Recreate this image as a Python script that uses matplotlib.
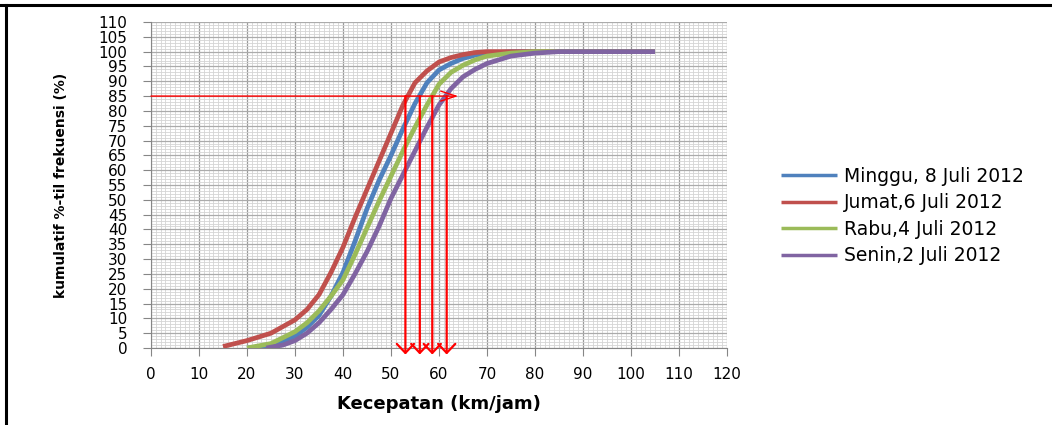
import numpy as np
import matplotlib.pyplot as plt
from matplotlib.ticker import MultipleLocator
from matplotlib.lines import Line2D

# kumulatif %-til frekuensi per hari
minggu_x = [20, 25, 30, 32.5, 35, 37.5, 40, 42.5, 45, 47.5, 50, 52.5, 55, 57.5, 60, 62.5, 65, 67.5, 70, 75, 80, 90, 105]
minggu_y = [0, 0.7, 4, 7, 11, 17.5, 25.5, 36, 47, 56.5, 65, 74, 82.5, 89.5, 93.8, 96, 97.7, 98.8, 99.4, 100, 100, 100, 100]

jumat_x = [15, 20, 25, 30, 32.5, 35, 37.5, 40, 42.5, 45, 47.5, 50, 52.5, 55, 57.5, 60, 62.5, 65, 67.5, 70, 75, 80, 90, 105]
jumat_y = [0.5, 2.5, 5, 9.5, 13, 18, 25.5, 34, 44, 53.5, 63, 72.5, 82, 89.5, 93.5, 96.5, 98, 99, 99.7, 100, 100, 100, 100, 100]

rabu_x = [20, 25, 30, 32.5, 35, 37.5, 40, 42.5, 45, 47.5, 50, 52.5, 55, 57.5, 60, 62.5, 65, 67.5, 70, 75, 80, 90, 105]
rabu_y = [0, 1.5, 5.5, 8.5, 12.5, 17.5, 23, 31.5, 40.5, 49.5, 58, 66.5, 74.5, 82, 89, 93, 95.4, 97.2, 98.5, 99.5, 100, 100, 100]

senin_x = [24, 27.5, 30, 32.5, 35, 37.5, 40, 42.5, 45, 47.5, 50, 52.5, 55, 57.5, 60, 62.5, 65, 67.5, 70, 75, 80, 85, 90, 105]
senin_y = [0, 1, 2.5, 5, 8.5, 13, 18, 25, 32.5, 41, 50.5, 58.5, 66.5, 74.5, 82, 87.5, 91.5, 94, 96, 98.5, 99.5, 100, 100, 100]

labels = ['Minggu, 8 Juli 2012', 'Jumat,6 Juli 2012', 'Rabu,4 Juli 2012', 'Senin,2 Juli 2012']
colors = ['#4F81BD', '#C0504D', '#9BBB59', '#8064A2']

# garis bantu 85 persentil
level = 85
arrow_x = [53, 56, 58.6, 61.6]
hline_end = 64

fig = plt.figure(figsize=(10.52, 4.25), dpi=100)
ax = fig.add_axes([151/1052, 77/425, 576/1052, 326/425])

series = [(minggu_x, minggu_y), (jumat_x, jumat_y), (rabu_x, rabu_y), (senin_x, senin_y)]
for (xs, ys), lab, c in zip(series, labels, colors):
    ax.plot(xs, ys, color=c, lw=3.4, label=lab, solid_capstyle='butt',
            solid_joinstyle='round', zorder=3)

# panah merah
ax.annotate('', xy=(hline_end, level), xytext=(0, level),
            arrowprops=dict(arrowstyle='->,head_length=1.1,head_width=0.36', color='red',
                            lw=1.0, shrinkA=0, shrinkB=0, mutation_scale=10), zorder=4)
for xa in arrow_x:
    ax.annotate('', xy=(xa, -2.2), xytext=(xa, level), annotation_clip=False,
                arrowprops=dict(arrowstyle='->,head_length=0.65,head_width=0.62', color='red',
                                lw=1.6, shrinkA=0, shrinkB=0, mutation_scale=10), zorder=4)

ax.set_xlim(0, 120)
ax.set_ylim(0, 110)
ax.xaxis.set_major_locator(MultipleLocator(10))
ax.xaxis.set_minor_locator(MultipleLocator(1))
ax.yaxis.set_major_locator(MultipleLocator(5))
ax.yaxis.set_minor_locator(MultipleLocator(1))

ax.grid(which='minor', color='#D4D4D4', lw=0.6)
ax.xaxis.grid(which='major', color='#9A9A9A', lw=0.9)
ax.yaxis.grid(which='major', color='#ABABAB', lw=0.9)
ax.set_axisbelow(True)

for s in ['top', 'right']:
    ax.spines[s].set_visible(False)
for s in ['left', 'bottom']:
    ax.spines[s].set_color('#868686')
ax.tick_params(which='major', length=6, color='#868686', labelsize=11)
ax.tick_params(axis='x', pad=8)
ax.tick_params(axis='y', pad=11)
ax.tick_params(which='minor', length=0)

ax.set_xlabel('Kecepatan (km/jam)', fontsize=13, fontweight='bold', labelpad=9)
ax.set_ylabel('kumulatif %-til frekuensi (%)', fontsize=10, fontweight='bold', labelpad=22)

leg = fig.legend(loc='upper left', bbox_to_anchor=(764/1052, 1 - 150/425), frameon=False,
                 fontsize=13.5, handlelength=3.0, handletextpad=0.35, labelspacing=0.4)
for h in leg.legend_handles:
    h.set_linewidth(2.5)

# bingkai luar
fig.add_artist(Line2D([0, 1], [1 - 5/425, 1 - 5/425], color='black', lw=2.2))
fig.add_artist(Line2D([6/1052, 6/1052], [0, 1 - 5/425], color='black', lw=2.2))

fig.savefig('out.png', dpi=100)
